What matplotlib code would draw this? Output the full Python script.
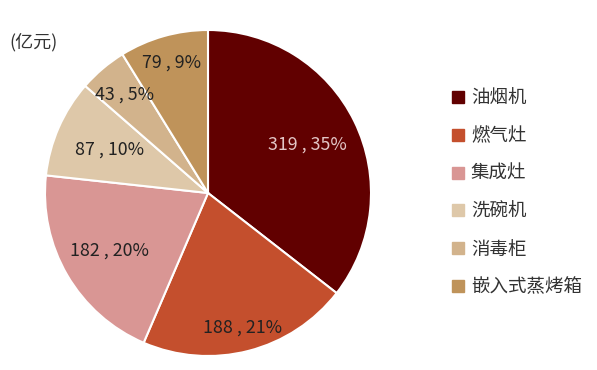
import matplotlib
matplotlib.use("Agg")
import matplotlib.pyplot as plt
from matplotlib.lines import Line2D
import numpy as np

plt.rcParams['font.family'] = ['Noto Sans CJK SC', 'DejaVu Sans']

categories = ['油烟机', '燃气灶', '集成灶', '洗碗机', '消毒柜', '嵌入式蒸烤箱']
values = [319, 188, 182, 87, 43, 79]
percents = [35, 21, 20, 10, 5, 9]
unit_label = '(亿元)'

colors = ['#610000', '#C44F2D', '#D99694', '#DEC8A9', '#D2B38C', '#BF935A']
label_colors = ['#E3C6C6', '#222222', '#222222', '#222222', '#222222', '#222222']
label_dist = [0.68, 0.85, 0.70, 0.66, 0.79, 0.83]

fig = plt.figure(figsize=(5.97, 3.70), dpi=100)
# pie axes: center (208,193), radius 163 px
r = 163
cx, cy = 208, 193
W, H = 597, 370
ax = fig.add_axes([(cx - r) / W, (H - cy - r) / H, 2 * r / W, 2 * r / H])
wedges, _ = ax.pie(values, colors=colors, startangle=90, counterclock=False,
                   wedgeprops=dict(edgecolor='white', linewidth=1.5), radius=1.0)
ax.set_xlim(-1, 1)
ax.set_ylim(-1, 1)
ax.set_aspect('auto')

for w, v, p, c, d in zip(wedges, values, percents, label_colors, label_dist):
    ang = np.deg2rad((w.theta1 + w.theta2) / 2)
    ax.text(d * np.cos(ang), d * np.sin(ang), f'{v} , {p}%', ha='center', va='center',
            fontsize=12.8, color=c)

fig.text(9 / W, 1 - 42 / H, unit_label, fontsize=13, color='#333333', ha='left', va='center')

handles = [Line2D([0], [0], marker='s', linestyle='none', markersize=8,
                  markerfacecolor=col, markeredgecolor=col) for col in colors]
leg = fig.legend(handles, categories, loc='upper left', bbox_to_anchor=(434 / W, 1 - 73 / H),
                 frameon=False, fontsize=13.3, handlelength=0.8, handletextpad=0.3,
                 labelspacing=1.07, labelcolor='#333333')

fig.savefig('out.png', dpi=100)
